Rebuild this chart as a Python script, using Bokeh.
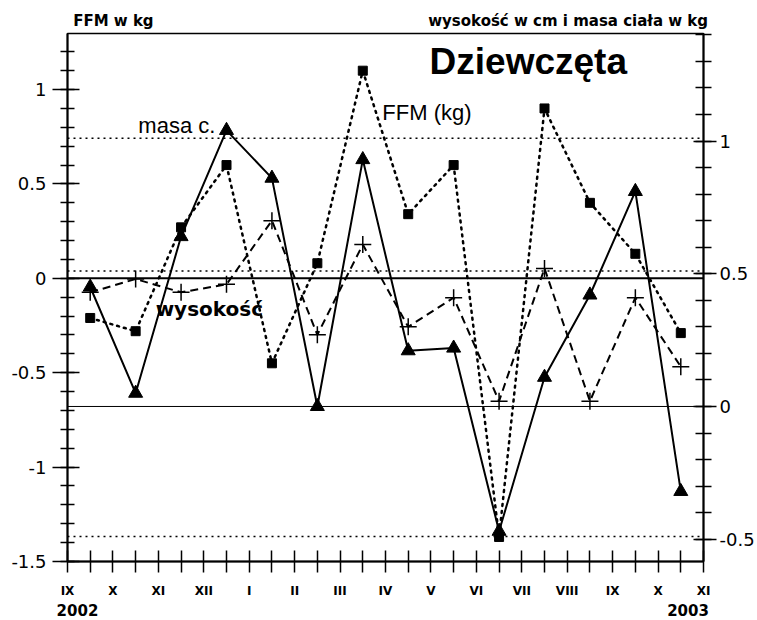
from bokeh.plotting import figure
from bokeh.models import Range1d, LinearAxis, FixedTicker, Span, Label
from bokeh.embed import file_html
from bokeh.resources import INLINE

# ---- data ----
months = ["IX", "X", "XI", "XII", "I", "II", "III", "IV", "V", "VI", "VII", "VIII", "IX", "X", "XI"]
years = ["2002", "2003"]
axis_titles = ["FFM w kg", "wysokość w cm i masa ciała w kg"]
# FFM in kg (left axis), one value per month (mid-month)
ffm = [-0.21, -0.28, 0.27, 0.60, -0.45, 0.08, 1.10, 0.34, 0.60, -1.37, 0.90, 0.40, 0.13, -0.29]
# masa ciała (right axis)
masa = [0.45, 0.05, 0.64, 1.04, 0.86, 0.00, 0.93, 0.21, 0.22, -0.47, 0.11, 0.42, 0.81, -0.32]
# wysokość (right axis)
wysokosc = [0.43, 0.48, 0.43, 0.46, 0.70, 0.27, 0.61, 0.30, 0.41, 0.02, 0.52, 0.02, 0.41, 0.15]
# reference lines
ref_dotted_right = [1.01, 0.51, -0.49]
ref_solid_left = [0.0]
ref_solid_right = [0.0]
left_major = [-1.5, -1.0, -0.5, 0.0, 0.5, 1.0]
right_major = [-0.5, 0.0, 0.5, 1.0]

x = [i + 0.5 for i in range(len(ffm))]  # middle of each month

W, H = 757, 620
p = figure(width=W, height=H, output_backend="svg", toolbar_location=None,
           x_range=Range1d(0, 14), y_range=Range1d(-1.5, 1.297),
           min_border_left=67, min_border_right=54, min_border_top=33, min_border_bottom=59)
p.extra_y_ranges = {"right": Range1d(-0.584, 1.405)}
p.xgrid.visible = False
p.ygrid.visible = False
p.outline_line_color = "black"
p.outline_line_width = 1.5
p.background_fill_color = "white"
p.border_fill_color = "white"

fmt = lambda v: "%g" % v

# left axis
ya = p.yaxis[0]
ya.ticker = FixedTicker(ticks=left_major, minor_ticks=[round(-1.5 + 0.1 * i, 1) for i in range(28)])
ya.major_label_overrides = {v: fmt(v) for v in left_major}
ya.axis_line_width = 2
ya.major_tick_in = 12
ya.major_tick_out = 15
ya.minor_tick_in = 7
ya.minor_tick_out = 7
ya.major_tick_line_width = 1.5
ya.minor_tick_line_width = 1.5
ya.major_label_standoff = 6
ya.major_label_text_font = "DejaVu Sans"
ya.major_label_text_font_size = "18px"
ya.major_label_text_color = "black"

# right axis
ra = LinearAxis(y_range_name="right",
                ticker=FixedTicker(ticks=right_major,
                                   minor_ticks=[round(-0.5 + 0.1 * i, 1) for i in range(20)]))
ra.major_label_overrides = {v: fmt(v) for v in right_major}
ra.axis_line_width = 2
ra.major_tick_in = 10
ra.major_tick_out = 13
ra.minor_tick_in = 8
ra.minor_tick_out = 8
ra.major_tick_line_width = 1.5
ra.minor_tick_line_width = 1.5
ra.major_label_standoff = 3
ra.major_label_text_font = "DejaVu Sans"
ra.major_label_text_font_size = "18px"
ra.major_label_text_color = "black"
p.add_layout(ra, "right")

# bottom axis (months)
xa = p.xaxis[0]
xa.ticker = FixedTicker(ticks=list(range(len(months))),
                        minor_ticks=[i + 0.5 for i in range(len(months) - 1)])
xa.major_label_overrides = {i: m for i, m in enumerate(months)}
xa.axis_line_width = 2
xa.major_tick_in = 11
xa.major_tick_out = 11
xa.minor_tick_in = 11
xa.minor_tick_out = 11
xa.major_tick_line_width = 1.5
xa.minor_tick_line_width = 1.5
xa.major_label_standoff = 11
xa.major_label_text_font = "DejaVu Sans"
xa.major_label_text_font_style = "bold"
xa.major_label_text_font_size = "12px"
xa.major_label_text_color = "black"


def text_axis(positions, texts, size, standoff):
    ax = LinearAxis(ticker=FixedTicker(ticks=positions, minor_ticks=[]))
    ax.major_label_overrides = {pos: t for pos, t in zip(positions, texts)}
    ax.axis_line_color = None
    ax.major_tick_line_color = None
    ax.minor_tick_line_color = None
    ax.major_tick_in = 0
    ax.major_tick_out = 0
    ax.minor_tick_in = 0
    ax.minor_tick_out = 0
    ax.major_label_standoff = standoff
    ax.major_label_text_font = "DejaVu Sans"
    ax.major_label_text_font_style = "bold"
    ax.major_label_text_font_size = size
    ax.major_label_text_color = "black"
    return ax


# years below the month labels
p.add_layout(text_axis([0.22, 13.66], years, "15px", 3), "below")
# axis titles above the frame
p.add_layout(text_axis([1.01, 11.02], axis_titles, "15px", 4), "above")

# reference lines
for v in ref_dotted_right:
    p.add_layout(Span(location=v, dimension="width", y_range_name="right",
                      line_color="black", line_width=1.5, line_dash="2 4"))
for v in ref_solid_left:
    p.add_layout(Span(location=v, dimension="width", line_color="black", line_width=2))
for v in ref_solid_right:
    p.add_layout(Span(location=v, dimension="width", y_range_name="right",
                      line_color="black", line_width=1))

# series
p.line(x, ffm, line_color="black", line_width=2.5, line_dash="2 5", line_cap="round")
p.scatter(x, ffm, marker="square", size=9, color="black")

p.line(x, masa, y_range_name="right", line_color="black", line_width=2)
p.scatter(x, masa, y_range_name="right", marker="triangle", size=14, color="black")

p.line(x, wysokosc, y_range_name="right", line_color="black", line_width=2, line_dash="8 5")
p.scatter(x, wysokosc, y_range_name="right", marker="cross", size=17,
          line_color="black", line_width=1.5)

# in-plot texts
p.add_layout(Label(x=7.97, y=1.148, text="Dziewczęta", text_font="Liberation Sans",
                   text_font_style="bold", text_font_size="37px", text_baseline="middle",
                   text_color="black"))
p.add_layout(Label(x=1.56, y=0.81, text="masa c.", text_font="Liberation Sans",
                   text_font_size="22px", text_baseline="middle", text_color="black"))
p.add_layout(Label(x=6.93, y=0.88, text="FFM (kg)", text_font="Liberation Sans",
                   text_font_size="22px", text_baseline="middle", text_color="black"))
p.add_layout(Label(x=1.94, y=-0.165, text="wysokość", text_font="DejaVu Sans",
                   text_font_style="bold", text_font_size="20px", text_baseline="middle",
                   text_color="black"))

open("out.html", "w").write(file_html(p, INLINE))
